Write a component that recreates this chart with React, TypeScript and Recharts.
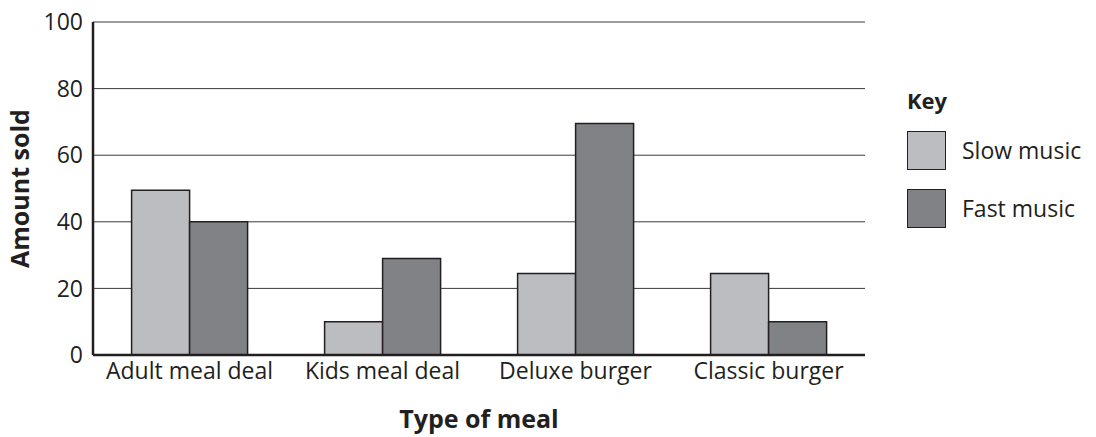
import React from "react";
import {
  BarChart,
  Bar,
  XAxis,
  YAxis,
  CartesianGrid,
  Label,
} from "recharts";

const categories = ["Adult meal deal", "Kids meal deal", "Deluxe burger", "Classic burger"];
const slowMusic = [49.5, 10, 24.5, 24.5];
const fastMusic = [40, 29, 69.5, 10];
const yTicks = [0, 20, 40, 60, 80, 100];

const SLOW = "#bcbdc0";
const FAST = "#808285";
const INK = "#231f20";
const FONT = "'Open Sans', 'Noto Sans', sans-serif";

const data = categories.map((c, i) => ({ name: c, slow: slowMusic[i], fast: fastMusic[i] }));

const legendItems = [
  { label: "Slow music", color: SLOW, top: 45 },
  { label: "Fast music", color: FAST, top: 103 },
];

const KeyLegend = () => (
  <div style={{ fontFamily: FONT, color: INK, position: "absolute", left: 907, top: 86, width: 185, height: 160 }}>
    <div style={{ position: "absolute", left: 0, top: 0, fontSize: 22, fontWeight: 700, lineHeight: "28px" }}>Key</div>
    {legendItems.map((it) => (
      <div key={it.label}>
        <div
          style={{
            position: "absolute",
            left: 0,
            top: it.top,
            width: 37,
            height: 37,
            background: it.color,
            border: `1.5px solid ${INK}`,
          }}
        />
        <div
          style={{
            position: "absolute",
            left: 55,
            top: it.top,
            height: 39,
            lineHeight: "39px",
            fontSize: 23,
            whiteSpace: "nowrap",
          }}
        >
          {it.label}
        </div>
      </div>
    ))}
  </div>
);

export default function App() {
  return (
    <div style={{ position: "relative", width: 1096, height: 437, margin: "-8px 0 0 -8px", background: "#fff" }}>
      <BarChart
        width={1096}
        height={437}
        data={data}
        margin={{ top: 22, right: 231, bottom: 9, left: 8 }}
        barCategoryGap="20%"
        barGap={0}
      >
        <CartesianGrid horizontal vertical={false} stroke="#3a3a3a" strokeWidth={1} />
        <XAxis
          dataKey="name"
          height={73}
          tickLine={false}
          tickSize={0}
          tickMargin={8}
          axisLine={{ stroke: INK, strokeWidth: 2.5 }}
          tick={{ fill: INK, fontSize: 23, fontFamily: FONT }}
          interval={0}
        >
          <Label
            value="Type of meal"
            position="insideBottom"
            offset={0}
            style={{ fill: INK, fontSize: 25, fontWeight: 700, fontFamily: FONT }}
          />
        </XAxis>
        <XAxis xAxisId="top" dataKey="name" orientation="top" height={0} tick={false} tickLine={false} axisLine={{ stroke: INK, strokeWidth: 2 }} />
        <YAxis
          domain={[0, 100]}
          ticks={yTicks}
          width={85}
          tickLine={false}
          tickSize={0}
          tickMargin={10}
          axisLine={{ stroke: INK, strokeWidth: 2.5 }}
          tick={{ fill: INK, fontSize: 23, fontFamily: FONT }}
          interval={0}
        >
          <Label
            value="Amount sold"
            angle={-90}
            position="insideLeft"
            offset={12}
            style={{ textAnchor: "middle", fill: INK, fontSize: 25, fontWeight: 700, fontFamily: FONT }}
          />
        </YAxis>
        <YAxis yAxisId="right" orientation="right" width={0} domain={[0, 100]} tick={false} tickLine={false} axisLine={{ stroke: INK, strokeWidth: 2 }} />
        <Bar dataKey="slow" name="Slow music" fill={SLOW} stroke={INK} strokeWidth={1.5} isAnimationActive={false} />
        <Bar dataKey="fast" name="Fast music" fill={FAST} stroke={INK} strokeWidth={1.5} isAnimationActive={false} />
      </BarChart>
      <KeyLegend />
    </div>
  );
}
